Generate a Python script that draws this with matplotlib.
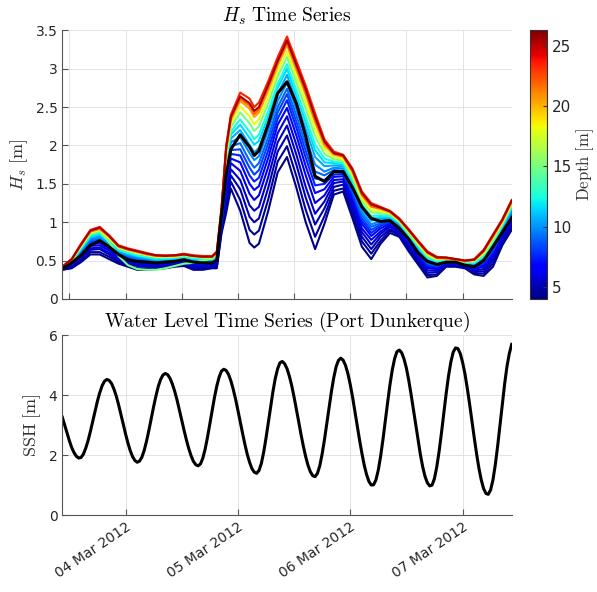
import numpy as np
import pandas as pd
import matplotlib
matplotlib.use("Agg")
import matplotlib.pyplot as plt
import matplotlib.dates as mdates
from matplotlib import cm, colors
from matplotlib.ticker import FormatStrFormatter

plt.rcParams['font.family'] = ['DejaVu Sans']
plt.rcParams['mathtext.fontset'] = 'cm'

START = pd.Timestamp("2012-03-03 10:30")

# Hs sample times (hours after START)
hs_hours = [0, 2, 4, 6, 8, 10, 12, 14, 16, 18, 20, 22, 24, 26, 28, 30, 32, 33, 34, 35,
            36, 38, 40, 41, 42, 44, 46, 48, 50, 52, 54, 56, 58, 60, 62, 64, 66, 68, 70, 72,
            74, 76, 78, 80, 82, 84, 86, 88, 90, 92, 94, 96]

# one Hs curve per station depth [m]
hs_depth_4_2 = [.38, .40, .48, .58, .58, .52, .46, .42, .38, .38, .39, .40, .42, .43, .38, .38, .40, .40, .85, 1.12,
                1.44, 1.15, .73, .67, .72, 1.15, 1.65, 1.85, 1.45, 1.00, .65, .98, 1.36, 1.40, 1.05, .68, .52, .72, .86, .81,
                .62, .45, .28, .30, .42, .42, .40, .32, .30, .42, .70, .90]
hs_depth_4_6 = [.38, .41, .50, .61, .61, .55, .48, .44, .40, .40, .41, .42, .43, .44, .40, .40, .41, .42, .88, 1.20,
                1.53, 1.29, .90, .84, .89, 1.30, 1.79, 1.99, 1.60, 1.16, .81, 1.08, 1.41, 1.44, 1.11, .75, .59, .76, .89, .83,
                .65, .48, .31, .32, .43, .43, .41, .34, .33, .46, .73, .94]
hs_depth_5_0 = [.39, .42, .52, .64, .65, .58, .50, .46, .43, .42, .42, .43, .45, .46, .41, .41, .43, .44, .91, 1.28,
                1.61, 1.43, 1.07, 1.00, 1.05, 1.45, 1.92, 2.13, 1.75, 1.32, .97, 1.18, 1.46, 1.49, 1.17, .81, .65, .81, .91, .85,
                .67, .51, .34, .35, .44, .44, .42, .36, .36, .50, .76, .97]
hs_depth_5_5 = [.39, .43, .54, .66, .67, .60, .52, .48, .45, .44, .44, .44, .46, .47, .43, .43, .44, .46, .94, 1.35,
                1.69, 1.55, 1.22, 1.15, 1.20, 1.59, 2.04, 2.26, 1.88, 1.46, 1.11, 1.27, 1.51, 1.53, 1.22, .87, .71, .85, .94, .87,
                .70, .53, .37, .37, .45, .45, .43, .37, .39, .53, .79, 1.00]
hs_depth_6_0 = [.39, .44, .56, .69, .70, .63, .54, .50, .47, .45, .45, .46, .47, .48, .45, .44, .45, .47, .96, 1.42,
                1.77, 1.67, 1.37, 1.29, 1.35, 1.72, 2.16, 2.38, 2.01, 1.61, 1.25, 1.35, 1.55, 1.56, 1.27, .92, .77, .88, .96, .89,
                .72, .56, .40, .39, .46, .45, .43, .39, .42, .56, .82, 1.03]
hs_depth_6_8 = [.40, .45, .58, .71, .73, .65, .56, .52, .48, .47, .46, .47, .48, .50, .46, .45, .47, .49, .99, 1.48,
                1.83, 1.78, 1.50, 1.42, 1.47, 1.84, 2.27, 2.49, 2.13, 1.73, 1.38, 1.43, 1.59, 1.60, 1.32, .98, .82, .92, .98, .91,
                .74, .58, .42, .40, .47, .46, .44, .40, .44, .59, .84, 1.06]
hs_depth_7_5 = [.40, .46, .59, .73, .75, .67, .57, .53, .50, .48, .47, .48, .49, .50, .47, .46, .48, .50, 1.00, 1.53,
                1.89, 1.87, 1.61, 1.53, 1.58, 1.94, 2.35, 2.59, 2.23, 1.84, 1.48, 1.50, 1.62, 1.63, 1.36, 1.02, .86, .95, 1.00, .92,
                .76, .60, .44, .42, .48, .47, .45, .41, .46, .62, .86, 1.08]
hs_depth_8_2 = [.40, .46, .61, .75, .77, .68, .59, .55, .51, .49, .48, .49, .50, .51, .48, .47, .48, .51, 1.02, 1.58,
                1.94, 1.95, 1.71, 1.62, 1.68, 2.03, 2.43, 2.67, 2.31, 1.93, 1.57, 1.55, 1.65, 1.65, 1.39, 1.05, .90, .97, 1.01, .94,
                .77, .61, .46, .43, .48, .47, .45, .42, .48, .64, .88, 1.10]
hs_depth_9_0 = [.40, .47, .62, .76, .79, .70, .60, .56, .52, .50, .49, .50, .51, .52, .49, .48, .49, .52, 1.04, 1.62,
                1.99, 2.03, 1.80, 1.71, 1.77, 2.11, 2.50, 2.74, 2.39, 2.01, 1.66, 1.61, 1.68, 1.67, 1.42, 1.09, .94, .99, 1.02, .95,
                .79, .63, .47, .44, .49, .48, .46, .43, .49, .66, .89, 1.12]
hs_depth_9_8 = [.41, .47, .63, .78, .80, .71, .61, .57, .54, .52, .50, .51, .51, .53, .50, .49, .50, .54, 1.06, 1.67,
                2.04, 2.11, 1.90, 1.81, 1.86, 2.20, 2.58, 2.82, 2.47, 2.10, 1.75, 1.66, 1.71, 1.70, 1.45, 1.13, .97, 1.02, 1.04, .96,
                .80, .64, .49, .46, .49, .48, .46, .44, .51, .68, .91, 1.14]
hs_depth_10_5 = [.41, .48, .64, .80, .82, .73, .62, .58, .55, .53, .51, .52, .52, .54, .51, .50, .51, .55, 1.07, 1.72,
                 2.09, 2.20, 2.01, 1.91, 1.97, 2.30, 2.67, 2.92, 2.57, 2.21, 1.85, 1.73, 1.74, 1.73, 1.49, 1.17, 1.02, 1.05, 1.06, .97,
                 .82, .66, .51, .47, .50, .49, .47, .46, .53, .71, .93, 1.17]
hs_depth_11_5 = [.41, .49, .66, .81, .84, .75, .64, .60, .56, .54, .52, .52, .53, .55, .52, .51, .52, .56, 1.09, 1.76,
                 2.14, 2.27, 2.10, 2.01, 2.06, 2.38, 2.75, 3.00, 2.65, 2.30, 1.94, 1.78, 1.77, 1.75, 1.52, 1.21, 1.05, 1.07, 1.07, .99,
                 .83, .68, .53, .48, .51, .49, .47, .47, .55, .73, .95, 1.19]
hs_depth_12_5 = [.41, .49, .66, .83, .86, .76, .64, .60, .57, .55, .53, .53, .54, .55, .53, .52, .52, .57, 1.10, 1.80,
                 2.18, 2.34, 2.18, 2.08, 2.14, 2.45, 2.80, 3.06, 2.72, 2.37, 2.01, 1.83, 1.79, 1.77, 1.55, 1.23, 1.08, 1.09, 1.08, 1.00,
                 .84, .69, .54, .49, .51, .50, .48, .47, .56, .74, .96, 1.20]
hs_depth_15_0 = [.41, .50, .68, .85, .88, .74, .56, .44, .39, .38, .38, .40, .43, .46, .47, .50, .53, .58, 1.12, 1.85,
                 2.24, 2.43, 2.29, 2.19, 2.25, 2.55, 2.90, 3.15, 2.82, 2.48, 2.12, 1.89, 1.82, 1.80, 1.59, 1.28, 1.13, 1.12, 1.10, 1.01,
                 .86, .71, .56, .51, .52, .50, .48, .49, .58, .77, .98, 1.22]
hs_depth_18_0 = [.42, .51, .69, .86, .90, .79, .67, .63, .60, .57, .55, .55, .55, .57, .55, .54, .54, .59, 1.14, 1.89,
                 2.28, 2.51, 2.38, 2.28, 2.34, 2.64, 2.97, 3.23, 2.90, 2.57, 2.21, 1.95, 1.85, 1.82, 1.62, 1.31, 1.16, 1.14, 1.12, 1.02,
                 .88, .72, .58, .52, .53, .51, .49, .50, .60, .79, 1.00, 1.24]
hs_depth_20_5 = [.42, .51, .70, .88, .91, .81, .68, .64, .61, .58, .56, .56, .56, .58, .56, .55, .55, .60, 1.16, 1.94,
                 2.33, 2.58, 2.48, 2.37, 2.43, 2.72, 3.04, 3.31, 2.98, 2.66, 2.30, 2.00, 1.88, 1.85, 1.65, 1.35, 1.20, 1.17, 1.13, 1.03,
                 .89, .74, .60, .53, .53, .51, .49, .51, .62, .81, 1.02, 1.26]
hs_depth_22_0 = [.42, .51, .71, .88, .92, .82, .69, .65, .62, .59, .56, .56, .56, .58, .56, .55, .55, .61, 1.16, 1.96,
                 2.35, 2.61, 2.52, 2.41, 2.47, 2.76, 3.08, 3.34, 3.02, 2.69, 2.33, 2.03, 1.89, 1.86, 1.67, 1.36, 1.21, 1.18, 1.14, 1.04,
                 .90, .75, .60, .54, .53, .52, .50, .51, .62, .82, 1.02, 1.27]
hs_depth_23_5 = [.42, .52, .72, .90, .94, .83, .70, .66, .63, .60, .57, .57, .57, .59, .57, .56, .56, .62, 1.18, 2.00,
                 2.40, 2.69, 2.61, 2.50, 2.56, 2.84, 3.15, 3.42, 3.10, 2.78, 2.42, 2.08, 1.92, 1.88, 1.70, 1.40, 1.25, 1.20, 1.15, 1.05,
                 .91, .76, .62, .55, .54, .52, .50, .52, .64, .84, 1.04, 1.29]
hs_depth_25_5 = [.42, .52, .71, .89, .93, .82, .69, .65, .62, .59, .57, .56, .57, .58, .56, .55, .55, .61, 1.17, 1.97,
                 2.37, 2.64, 2.55, 2.45, 2.50, 2.79, 3.10, 3.37, 3.05, 2.73, 2.37, 2.05, 1.90, 1.87, 1.68, 1.38, 1.23, 1.19, 1.14, 1.04,
                 .90, .75, .61, .54, .54, .52, .50, .51, .63, .83, 1.03, 1.28]

depths = [4.2, 4.6, 5.0, 5.5, 6.0, 6.8, 7.5, 8.2, 9.0, 9.8, 10.5, 11.5, 12.5, 15.0, 18.0, 20.5, 22.0, 23.5, 25.5]
hs_curves = [hs_depth_4_2, hs_depth_4_6, hs_depth_5_0, hs_depth_5_5, hs_depth_6_0, hs_depth_6_8,
             hs_depth_7_5, hs_depth_8_2, hs_depth_9_0, hs_depth_9_8, hs_depth_10_5, hs_depth_11_5,
             hs_depth_12_5, hs_depth_15_0, hs_depth_18_0, hs_depth_20_5, hs_depth_22_0, hs_depth_23_5,
             hs_depth_25_5]

hs_mean = [.39, .47, .57, .70, .76, .68, .58, .51, .49, .48, .47, .48, .49, .51, .48, .47, .47, .50, 1.08, 1.62,
           1.95, 2.14, 1.98, 1.87, 1.93, 2.28, 2.68, 2.83, 2.55, 2.12, 1.60, 1.53, 1.66, 1.66, 1.45, 1.20, 1.05, 1.01, 1.02, .92,
           .78, .60, .49, .45, .48, .48, .44, .42, .50, .68, .87, 1.06]

# water level, every half hour from START
ssh = [3.26, 3.00, 2.73, 2.48, 2.25, 2.08, 1.96, 1.90, 1.92, 2.03, 2.23, 2.48, 2.79, 3.13, 3.47, 3.80,
       4.08, 4.31, 4.46, 4.52, 4.49, 4.39, 4.21, 3.98, 3.69, 3.37, 3.04, 2.71, 2.41, 2.15, 1.95, 1.82,
       1.76, 1.80, 1.93, 2.16, 2.47, 2.83, 3.22, 3.61, 3.97, 4.29, 4.52, 4.67, 4.72, 4.68, 4.56, 4.37,
       4.13, 3.84, 3.51, 3.17, 2.83, 2.51, 2.22, 1.98, 1.79, 1.68, 1.64, 1.70, 1.89, 2.19, 2.58, 3.02,
       3.48, 3.92, 4.30, 4.60, 4.80, 4.86, 4.82, 4.69, 4.48, 4.20, 3.87, 3.50, 3.11, 2.73, 2.36, 2.03,
       1.76, 1.55, 1.43, 1.39, 1.48, 1.71, 2.08, 2.55, 3.07, 3.61, 4.12, 4.56, 4.88, 5.08, 5.12, 5.04,
       4.88, 4.63, 4.32, 3.94, 3.53, 3.11, 2.68, 2.29, 1.94, 1.65, 1.44, 1.31, 1.28, 1.39, 1.64, 2.03,
       2.51, 3.05, 3.61, 4.13, 4.59, 4.95, 5.16, 5.23, 5.16, 4.99, 4.72, 4.36, 3.94, 3.47, 2.98, 2.50,
       2.06, 1.66, 1.35, 1.12, 1.00, 1.01, 1.17, 1.50, 1.96, 2.52, 3.14, 3.76, 4.35, 4.85, 5.22, 5.45,
       5.50, 5.41, 5.20, 4.90, 4.50, 4.03, 3.52, 2.99, 2.48, 2.01, 1.60, 1.28, 1.07, 0.97, 1.00, 1.22,
       1.61, 2.13, 2.74, 3.40, 4.05, 4.63, 5.10, 5.43, 5.57, 5.55, 5.39, 5.10, 4.72, 4.24, 3.71, 3.14,
       2.58, 2.04, 1.56, 1.17, 0.88, 0.72, 0.69, 0.84, 1.17, 1.68, 2.30, 3.00, 3.71, 4.38, 4.96, 5.39,
       5.69]


def to_time(hours):
    return START + pd.to_timedelta(np.asarray(hours, dtype=float), unit="h")


def style_axes(ax):
    for side in ["top", "right"]:
        ax.spines[side].set_visible(False)
    for side in ["left", "bottom"]:
        ax.spines[side].set_color("#555555")
        ax.spines[side].set_linewidth(0.8)
    ax.grid(True, color="#e3e3e3", linewidth=0.7)
    ax.set_axisbelow(True)
    ax.tick_params(direction="in", length=4, width=0.8, color="#555555",
                   labelcolor="#262626", labelsize=10)


def main():
    fig = plt.figure(figsize=(5.97, 5.92), dpi=100)
    ax1 = fig.add_axes([0.1044, 0.495, 0.7527, 0.4537])
    ax2 = fig.add_axes([0.1044, 0.130, 0.7527, 0.304])
    cax = fig.add_axes([0.887, 0.495, 0.030, 0.4537])

    t_hs = to_time(hs_hours)
    t_ssh = to_time(np.arange(len(ssh)) * 0.5)
    xlim = (START, START + pd.Timedelta(hours=96))

    norm = colors.Normalize(vmin=4.0, vmax=26.3)
    cmap = plt.get_cmap("jet")

    # Hs panel
    for d, curve in zip(depths, hs_curves):
        ax1.plot(t_hs, curve, color=cmap(norm(d)), linewidth=1.5,
                 solid_joinstyle="round")
    ax1.plot(t_hs, hs_mean, color="black", linewidth=2.2, solid_joinstyle="round")
    ax1.set_xlim(xlim)
    ax1.set_ylim(0, 3.5)
    ax1.set_yticks(np.arange(0, 3.51, 0.5))
    ax1.yaxis.set_major_formatter(FormatStrFormatter("%g"))
    ax1.xaxis.set_major_locator(mdates.HourLocator(byhour=[0, 12]))
    style_axes(ax1)
    ax1.tick_params(labelbottom=False)
    ax1.set_ylabel(r"$H_s\ [\mathrm{m}]$", fontsize=13, color="#333333")
    ax1.set_title(r"$H_s\ \mathrm{Time\ Series}$", fontsize=14)

    # colorbar
    cb = fig.colorbar(cm.ScalarMappable(norm=norm, cmap=cmap), cax=cax)
    cb.set_ticks([5, 10, 15, 20, 25])
    cb.outline.set_edgecolor("#333333")
    cb.outline.set_linewidth(0.8)
    cax.tick_params(direction="in", length=3, color="#333333", labelcolor="#262626", labelsize=11)
    cb.set_label(r"$\mathrm{Depth\ [m]}$", fontsize=12, color="#333333", labelpad=2)

    # water level panel
    ax2.plot(t_ssh, ssh, color="black", linewidth=2.2)
    ax2.set_xlim(xlim)
    ax2.set_ylim(0, 6)
    ax2.set_yticks([0, 2, 4, 6])
    ax2.xaxis.set_major_locator(mdates.DayLocator())
    ax2.xaxis.set_major_formatter(mdates.DateFormatter("%d %b %Y"))
    style_axes(ax2)
    plt.setp(ax2.get_xticklabels(), rotation=34, ha="right", rotation_mode="anchor")
    ax2.set_ylabel(r"$\mathrm{SSH\ [m]}$", fontsize=13, color="#333333")
    ax2.set_title(r"$\mathrm{Water\ Level\ Time\ Series\ (Port\ Dunkerque)}$", fontsize=14)

    fig.savefig("out.png", dpi=100)
    plt.close(fig)


if __name__ == "__main__":
    main()
